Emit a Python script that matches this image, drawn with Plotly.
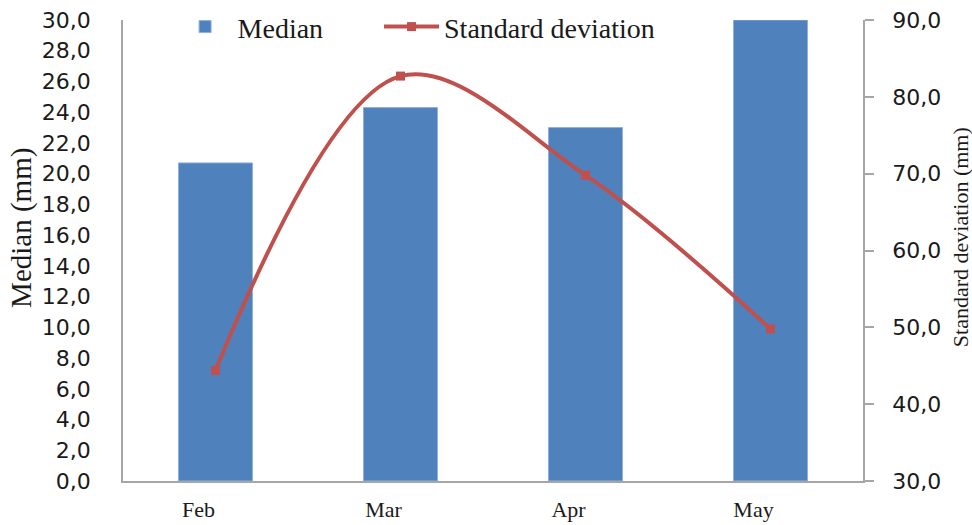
import plotly.graph_objects as go

# Monthly precipitation summary
months = ["Feb", "Mar", "Apr", "May"]
median_mm = [20.7, 24.3, 23.0, 30.0]
std_dev_mm = [44.4, 82.7, 69.8, 49.8]

left_ticks = [v * 2 for v in range(16)]
right_ticks = [30, 40, 50, 60, 70, 80, 90]

bar_color = "#4F81BD"
line_color = "#C0504D"
axis_color = "#A6A6A6"
text_color = "#1a1a1a"

fig = go.Figure()

fig.add_trace(go.Bar(
    x=months, y=median_mm, name="Median",
    marker=dict(color=bar_color, line=dict(color="#8DB0DC", width=1)),
    yaxis="y", legend="legend",
))

fig.add_trace(go.Scatter(
    x=months, y=std_dev_mm, name="Standard deviation",
    mode="lines+markers",
    line=dict(color=line_color, width=4, shape="spline", smoothing=1.0),
    marker=dict(symbol="square", size=9, color=line_color),
    yaxis="y2", legend="legend2",
))

legend_style = dict(
    orientation="h", y=0.985, xanchor="left", yanchor="middle",
    bgcolor="rgba(0,0,0,0)",
    font=dict(family="Liberation Serif", size=28, color=text_color),
    itemwidth=55,
)

fig.update_layout(
    width=972, height=525,
    margin=dict(l=123, r=109, t=20, b=44, autoexpand=False),
    plot_bgcolor="white", paper_bgcolor="white",
    separators=", ",
    bargap=0.6,
    showlegend=True,
    legend=dict(x=0.067, **legend_style),
    legend2=dict(x=0.346, **legend_style),
    xaxis=dict(
        automargin=False,
        showline=True, linecolor=axis_color, linewidth=1.5,
        showgrid=False, ticks="", ticklabelstandoff=8, ticklabelshift=-17,
        tickfont=dict(family="Liberation Serif", size=22, color=text_color),
    ),
    yaxis=dict(
        automargin=False,
        range=[0, 30], tickvals=left_ticks, tickformat=".1f",
        showline=True, linecolor=axis_color, linewidth=1.5,
        showgrid=False, zeroline=False, ticks="", ticklabelstandoff=26,
        tickfont=dict(family="DejaVu Sans", size=22, color=text_color),
    ),
    yaxis2=dict(
        automargin=False,
        range=[30, 90], tickvals=right_ticks, tickformat=".1f",
        overlaying="y", side="right",
        showline=True, linecolor=axis_color, linewidth=1.5,
        showgrid=False, zeroline=False,
        ticks="outside", ticklen=9, tickcolor=axis_color, tickwidth=1.5,
        ticklabelstandoff=14,
        tickfont=dict(family="DejaVu Sans", size=22, color=text_color),
    ),
    annotations=[
        dict(text="Median (mm)", textangle=-90, xref="paper", yref="paper",
             x=-0.1365, y=0.549, xanchor="center", yanchor="middle", showarrow=False,
             font=dict(family="Liberation Serif", size=29, color=text_color)),
        dict(text="Standard deviation (mm)", textangle=-90, xref="paper", yref="paper",
             x=1.1311, y=0.529, xanchor="center", yanchor="middle", showarrow=False,
             font=dict(family="Liberation Serif", size=22, color=text_color)),
    ],
)

fig.write_html("out.html")
